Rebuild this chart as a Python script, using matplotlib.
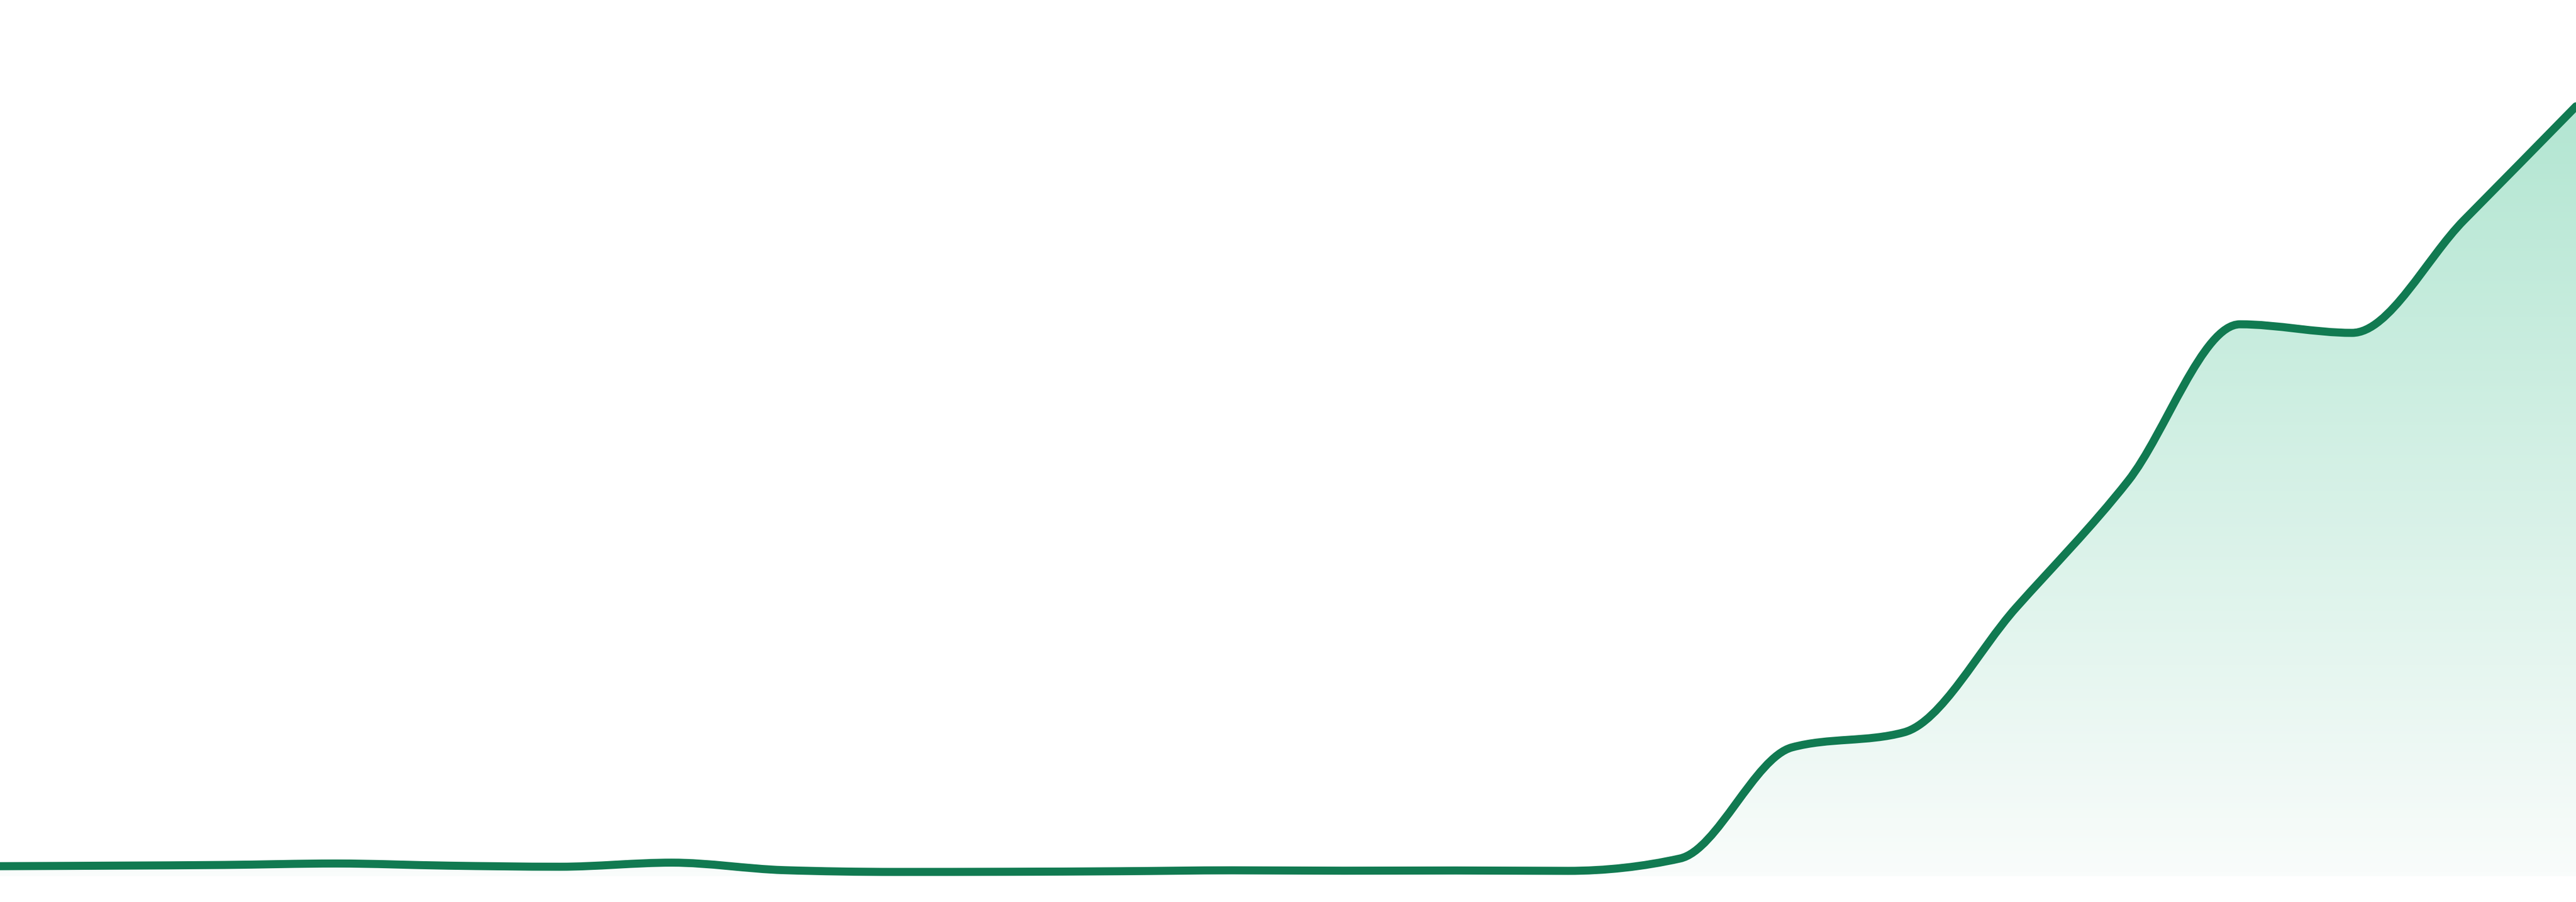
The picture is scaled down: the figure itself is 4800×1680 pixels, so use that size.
import numpy as np
import matplotlib
matplotlib.use('Agg')
import matplotlib.pyplot as plt
from matplotlib.path import Path
from matplotlib.patches import PathPatch
from matplotlib.colors import LinearSegmentedColormap

# one value per step
steps = list(range(24))
values = [1.87, 1.97, 2.10, 2.37, 1.97, 1.77, 2.53, 1.13, 0.80, 0.83, 0.93, 1.10,
          1.03, 1.07, 1.00, 3.30, 24.0, 26.8, 50.0, 73.6, 102.8, 101.2, 122.2, 143.4]

line_color = '#117a51'
fill_top = '#b3e6d2'
fill_bottom = '#f9fcfb'


def monotone_tangents(xs, ys):
    # same rule as d3.curveMonotoneX
    n = len(xs)
    t = np.zeros(n)
    for i in range(1, n - 1):
        h0 = xs[i] - xs[i - 1]
        h1 = xs[i + 1] - xs[i]
        s0 = (ys[i] - ys[i - 1]) / h0
        s1 = (ys[i + 1] - ys[i]) / h1
        p = (s0 * h1 + s1 * h0) / (h0 + h1)
        sg = (-1 if s0 < 0 else 1) + (-1 if s1 < 0 else 1)
        t[i] = sg * min(abs(s0), abs(s1), 0.5 * abs(p))
    h = xs[1] - xs[0]
    t[0] = (3 * (ys[1] - ys[0]) / h - t[1]) / 2
    h = xs[-1] - xs[-2]
    t[-1] = (3 * (ys[-1] - ys[-2]) / h - t[-2]) / 2
    return t


def curve_path(xs, ys):
    t = monotone_tangents(xs, ys)
    verts = [(xs[0], ys[0])]
    codes = [Path.MOVETO]
    for i in range(len(xs) - 1):
        dx = (xs[i + 1] - xs[i]) / 3
        verts += [(xs[i] + dx, ys[i] + dx * t[i]),
                  (xs[i + 1] - dx, ys[i + 1] - dx * t[i + 1]),
                  (xs[i + 1], ys[i + 1])]
        codes += [Path.CURVE4] * 3
    return verts, codes


xs = np.array(steps, dtype=float)
ys = np.array(values, dtype=float)
verts, codes = curve_path(xs, ys)

fig = plt.figure(figsize=(16, 5.6), dpi=300)
ax = fig.add_axes([0, 48 / 1680, 1, 1632 / 1680])
ax.axis('off')

# area under the line with a vertical fade
area_verts = verts + [(xs[-1], 0), (xs[0], 0), (xs[0], 0)]
area_codes = codes + [Path.LINETO, Path.LINETO, Path.CLOSEPOLY]
area = PathPatch(Path(area_verts, area_codes), facecolor='none', edgecolor='none')
ax.add_patch(area)
cmap = LinearSegmentedColormap.from_list('fade', [fill_bottom, fill_top])
grad = np.linspace(0, 1, 256).reshape(-1, 1)
im = ax.imshow(grad, extent=[xs[0], xs[-1], 0, ys.max()], origin='lower',
               aspect='auto', cmap=cmap, interpolation='bilinear')
im.set_clip_path(area)

line = PathPatch(Path(verts, codes), facecolor='none', edgecolor=line_color,
                 lw=3.6, capstyle='round', joinstyle='round')
ax.add_patch(line)

ax.set_xlim(xs[0], xs[-1])
ax.set_ylim(0, 163.2)

fig.savefig('out.png', dpi=300, facecolor='white')
